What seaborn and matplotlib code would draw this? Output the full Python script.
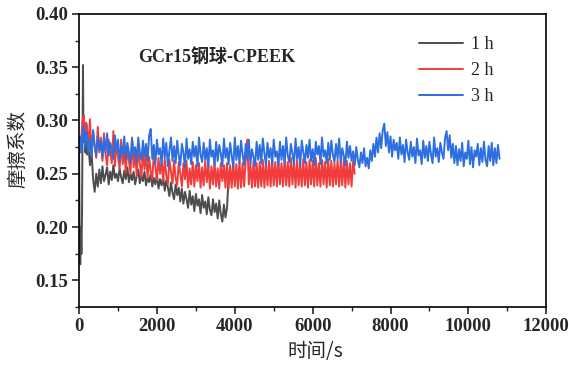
import numpy as np
import pandas as pd
import matplotlib
matplotlib.use("Agg")
import matplotlib.pyplot as plt
from matplotlib.ticker import MultipleLocator
import seaborn as sns

# valores (coeficiente de atrito vs tempo)
# trecho inicial com pontos finos, depois passo de 40 s a partir de 200 s
t1_inicio = [0, 15, 30, 45, 60, 75, 90, 100, 110, 125, 140, 160, 180]
mu1_inicio = [0.275, 0.19, 0.165, 0.20, 0.175, 0.21, 0.30, 0.352, 0.30, 0.28, 0.29, 0.27, 0.28]
mu1 = [0.268, 0.276, 0.258, 0.27, 0.245, 0.233, 0.25, 0.238, 0.254, 0.241,
       0.257, 0.243, 0.249, 0.256, 0.24, 0.252, 0.244, 0.258, 0.246, 0.25,
       0.243, 0.255, 0.247, 0.241, 0.253, 0.245, 0.256, 0.242, 0.25, 0.244,
       0.252, 0.24, 0.248, 0.254, 0.241, 0.249, 0.243, 0.252, 0.239, 0.247,
       0.242, 0.25, 0.238, 0.246, 0.24, 0.249, 0.236, 0.245, 0.239, 0.247,
       0.234, 0.244, 0.237, 0.229, 0.242, 0.232, 0.226, 0.24, 0.23, 0.237,
       0.224, 0.236, 0.222, 0.233, 0.226, 0.218, 0.234, 0.221, 0.229, 0.215,
       0.231, 0.22, 0.226, 0.213, 0.23, 0.218, 0.224, 0.212, 0.228, 0.216,
       0.211, 0.226, 0.214, 0.222, 0.208, 0.225, 0.212, 0.205, 0.221, 0.209,
       0.218, 0.246]

t2_inicio = [0, 30, 60, 90, 120, 150, 180]
mu2_inicio = [0.28, 0.27, 0.285, 0.30, 0.305, 0.28, 0.298]
mu2 = [0.296, 0.272, 0.301, 0.268, 0.289, 0.276, 0.265, 0.294, 0.27, 0.284,
       0.262, 0.288, 0.268, 0.258, 0.282, 0.27, 0.26, 0.29, 0.257, 0.279,
       0.266, 0.254, 0.282, 0.259, 0.272, 0.251, 0.276, 0.262, 0.25, 0.284,
       0.256, 0.27, 0.248, 0.275, 0.26, 0.247, 0.271, 0.254, 0.268, 0.246,
       0.266, 0.251, 0.245, 0.269, 0.256, 0.244, 0.265, 0.25, 0.262, 0.243,
       0.264, 0.248, 0.24, 0.263, 0.252, 0.241, 0.262, 0.246, 0.239, 0.261,
       0.25, 0.238, 0.26, 0.245, 0.262, 0.237, 0.255, 0.24, 0.261, 0.238,
       0.258, 0.243, 0.26, 0.237, 0.256, 0.239, 0.262, 0.242, 0.259, 0.236,
       0.257, 0.24, 0.261, 0.238, 0.255, 0.236, 0.26, 0.243, 0.258, 0.237,
       0.26, 0.236, 0.258, 0.237, 0.261, 0.238, 0.259, 0.236, 0.262, 0.237,
       0.26, 0.238, 0.263, 0.282, 0.24, 0.259, 0.237, 0.262, 0.238, 0.26,
       0.237, 0.261, 0.238, 0.263, 0.237, 0.26, 0.239, 0.262, 0.238, 0.264,
       0.239, 0.261, 0.238, 0.263, 0.24, 0.26, 0.238, 0.264, 0.239, 0.261,
       0.238, 0.265, 0.24, 0.262, 0.237, 0.263, 0.239, 0.26, 0.238, 0.264,
       0.239, 0.261, 0.237, 0.263, 0.24, 0.262, 0.238, 0.265, 0.239, 0.26,
       0.238, 0.263, 0.24, 0.261, 0.237, 0.264, 0.239, 0.262, 0.238, 0.26,
       0.24, 0.263, 0.238, 0.261, 0.239, 0.264, 0.237, 0.262, 0.24, 0.26,
       0.238, 0.262, 0.25]

t3_inicio = [0, 30, 60, 90, 120, 150, 180]
mu3_inicio = [0.275, 0.285, 0.27, 0.29, 0.295, 0.275, 0.288]
mu3 = [0.289, 0.27, 0.282, 0.266, 0.291, 0.276, 0.268, 0.285, 0.272, 0.28,
       0.265, 0.284, 0.27, 0.288, 0.267, 0.279, 0.273, 0.264, 0.286, 0.271,
       0.282, 0.262, 0.276, 0.268, 0.285, 0.264, 0.279, 0.27, 0.26, 0.283,
       0.267, 0.275, 0.261, 0.284, 0.27, 0.263, 0.281, 0.266, 0.278, 0.262,
       0.286, 0.292, 0.264, 0.277, 0.259, 0.282, 0.268, 0.274, 0.258, 0.283,
       0.265, 0.279, 0.257, 0.272, 0.284, 0.262, 0.276, 0.26, 0.281, 0.267,
       0.258, 0.278, 0.27, 0.256, 0.283, 0.264, 0.273, 0.259, 0.28, 0.266,
       0.276, 0.257, 0.284, 0.268, 0.261, 0.279, 0.263, 0.274, 0.256, 0.282,
       0.266, 0.272, 0.258, 0.28, 0.262, 0.277, 0.269, 0.257, 0.283, 0.265,
       0.274, 0.259, 0.279, 0.267, 0.256, 0.284, 0.263, 0.276, 0.26, 0.281,
       0.268, 0.258, 0.278, 0.264, 0.282, 0.259, 0.273, 0.266, 0.257, 0.28,
       0.263, 0.277, 0.26, 0.283, 0.269, 0.258, 0.279, 0.265, 0.274, 0.259,
       0.282, 0.266, 0.271, 0.258, 0.28, 0.263, 0.276, 0.26, 0.284, 0.267,
       0.261, 0.278, 0.269, 0.259, 0.283, 0.264, 0.275, 0.258, 0.281, 0.27,
       0.26, 0.277, 0.265, 0.282, 0.262, 0.273, 0.258, 0.28, 0.268, 0.276,
       0.259, 0.284, 0.266, 0.272, 0.26, 0.279, 0.263, 0.281, 0.268, 0.261,
       0.278, 0.264, 0.283, 0.26, 0.274, 0.267, 0.258, 0.28, 0.265, 0.276,
       0.262, 0.271, 0.258, 0.275, 0.263, 0.256, 0.27, 0.26, 0.274, 0.257,
       0.265, 0.255, 0.272, 0.262, 0.278, 0.266, 0.284, 0.27, 0.288, 0.274,
       0.291, 0.297, 0.276, 0.289, 0.27, 0.285, 0.266, 0.282, 0.272, 0.279,
       0.264, 0.284, 0.268, 0.277, 0.261, 0.282, 0.27, 0.263, 0.28, 0.266,
       0.275, 0.26, 0.283, 0.267, 0.272, 0.259, 0.281, 0.265, 0.276, 0.262,
       0.28, 0.268, 0.26, 0.284, 0.266, 0.274, 0.261, 0.279, 0.27, 0.264,
       0.283, 0.29, 0.272, 0.286, 0.265, 0.278, 0.26, 0.276, 0.258, 0.273,
       0.262, 0.279, 0.257, 0.27, 0.264, 0.281, 0.259, 0.275, 0.256, 0.272,
       0.266, 0.278, 0.258, 0.274, 0.261, 0.28, 0.263, 0.257, 0.276, 0.262,
       0.279, 0.258, 0.274, 0.26, 0.277, 0.264]

rotulos = ["1 h", "2 h", "3 h"]
cores = ["#4d4d4d", "#f23c3c", "#2d6fe0"]

# Montagem das séries (passo de 40 s a partir de 200 s)
series = []
for ti, mi, m in [(t1_inicio, mu1_inicio, mu1), (t2_inicio, mu2_inicio, mu2), (t3_inicio, mu3_inicio, mu3)]:
    t = list(ti) + list(200 + 40 * np.arange(len(m)))
    series.append(pd.DataFrame({"tempo": t, "mu": list(mi) + list(m)}))

sns.set_style("ticks")
plt.rcParams['font.family'] = ['Liberation Serif', 'Noto Sans CJK SC']

fig = plt.figure(figsize=(5.69, 3.65), dpi=100)
ax = fig.add_axes([0.139, 0.159, 0.821, 0.803])

for df, rot, cor in zip(series, rotulos, cores):
    sns.lineplot(data=df, x="tempo", y="mu", ax=ax, color=cor, lw=1.4,
                 label=rot, estimator=None, sort=False)

ax.set_xlim(0, 12000)
ax.set_ylim(0.125, 0.40)
ax.xaxis.set_major_locator(MultipleLocator(2000))
ax.xaxis.set_minor_locator(MultipleLocator(1000))
ax.yaxis.set_minor_locator(MultipleLocator(0.025))
yt = [0.15, 0.20, 0.25, 0.30, 0.35, 0.40]
ax.set_yticks(yt)
ax.set_yticklabels([f"{v:.2f}" for v in yt])

ax.tick_params(which='major', direction='out', length=5, width=1.2, labelsize=13.5, pad=3)
ax.tick_params(which='minor', direction='out', length=3, width=1.0)
for lab in ax.get_xticklabels() + ax.get_yticklabels():
    lab.set_fontweight('bold')
for sp in ax.spines.values():
    sp.set_linewidth(1.2)
    sp.set_color('black')

ax.set_xlabel("时间/s", fontsize=14, family=['Noto Sans CJK SC', 'DejaVu Sans'])
ax.set_ylabel("摩擦系数", fontsize=14, family=['Noto Sans CJK SC', 'DejaVu Sans'])
ax.xaxis.set_label_coords(0.505, -0.115)
ax.yaxis.set_label_coords(-0.108, 0.54)

ax.text(0.126, 0.85, "GCr15钢球-CPEEK", transform=ax.transAxes, fontsize=13,
        fontweight='bold', family=['Liberation Serif', 'Noto Sans CJK SC'], va='center')

ax.legend(loc='upper left', bbox_to_anchor=(0.728, 0.925), frameon=False, fontsize=13,
          handlelength=2.45, labelspacing=0.5, handletextpad=0.4,
          borderpad=0, borderaxespad=0)

fig.savefig("out.png", dpi=100)
